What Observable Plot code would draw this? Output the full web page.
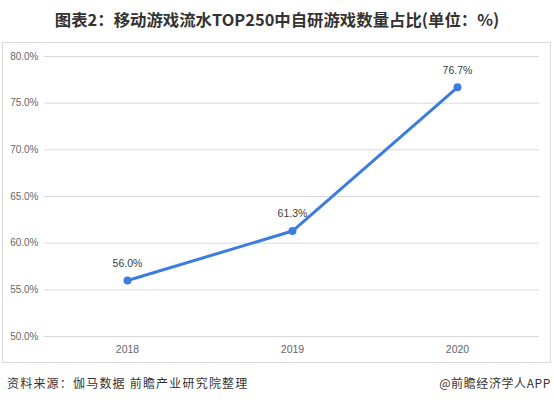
<!DOCTYPE html>
<html>
<head>
<meta charset="utf-8">
<script src="https://cdn.jsdelivr.net/npm/d3@7"></script>
<script src="https://cdn.jsdelivr.net/npm/@observablehq/plot@0.6"></script>
<style>
  body { margin: 0; background: #fff; }
  #wrap { position: relative; width: 554px; height: 404px; overflow: hidden; font-family: "Noto Sans CJK SC", "Liberation Sans", sans-serif; }
  #title { position: absolute; left: 0; top: 7px; width: 554px; text-align: center; font-size: 16.4px; font-weight: bold; color: #333; white-space: nowrap; }
  #box { position: absolute; left: 2px; top: 42px; width: 549px; height: 321px; border: 1px solid #d9d9d9; box-sizing: border-box; }
  #chart { position: absolute; left: 2px; top: 42px; }
  #src { position: absolute; left: 7px; top: 374px; font-size: 12px; letter-spacing: 1.2px; color: #333; white-space: nowrap; }
  #app { position: absolute; right: 3px; top: 374px; font-size: 12px; letter-spacing: 0.6px; color: #333; white-space: nowrap; }
</style>
</head>
<body>
<div id="wrap">
  <div id="title">图表2：移动游戏流水TOP250中自研游戏数量占比(单位：%)</div>
  <div id="box"></div>
  <div id="chart"></div>
  <div id="src">资料来源：伽马数据 前瞻产业研究院整理</div>
  <div id="app">@前瞻经济学人APP</div>
</div>
<script>
const years = ["2018", "2019", "2020"];
const shares = [56.0, 61.3, 76.7];
const yTicks = [50, 55, 60, 65, 70, 75, 80];

const data = years.map((y, i) => ({year: y, value: shares[i]}));

const chart = Plot.plot({
  width: 550,
  height: 322,
  marginLeft: 42,
  marginRight: 13,
  marginTop: 14,
  marginBottom: 28,
  style: {fontFamily: "'Liberation Sans', Arial, sans-serif", fontSize: "10px", background: "transparent"},
  x: {type: "point", domain: years, padding: 0.5, label: null},
  y: {domain: [50, 80], label: null},
  marks: [
    Plot.ruleY(yTicks, {stroke: "#d9d9d9", strokeWidth: 1}),
    Plot.axisY({ticks: yTicks, tickFormat: d => d.toFixed(1) + "%", tickSize: 0, tickPadding: 6, fill: "#666", fontSize: 10, label: null}),
    Plot.axisX({tickSize: 0, tickPadding: 9, fill: "#666", fontSize: 10.5, label: null}),
    Plot.line(data, {x: "year", y: "value", stroke: "#3b7ddd", strokeWidth: 3}),
    Plot.dot(data, {x: "year", y: "value", r: 4, fill: "#3b7ddd"}),
    Plot.text(data, {x: "year", y: "value", text: d => d.value.toFixed(1) + "%", dy: -17, fill: "#404040", fontSize: 10.5})
  ]
});
document.getElementById("chart").appendChild(chart);
</script>
</body>
</html>
